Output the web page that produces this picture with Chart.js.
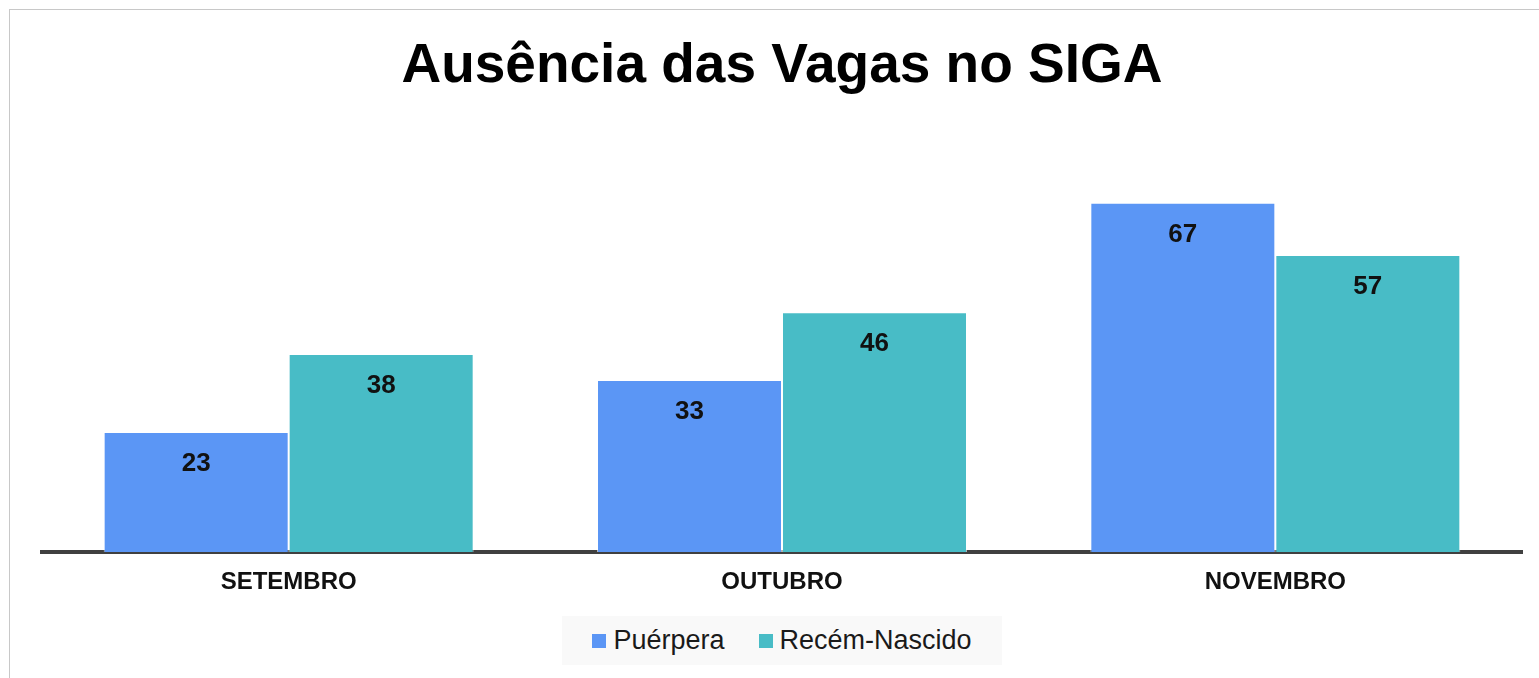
<!DOCTYPE html>
<html lang="pt-BR">
<head>
<meta charset="utf-8">
<title>Ausência das Vagas no SIGA</title>
<script src="https://cdn.jsdelivr.net/npm/chart.js@4.4.1/dist/chart.umd.min.js"></script>
<style>
    html, body { margin: 0; padding: 0; background: #fff; overflow: hidden; }
    #wrap { position: relative; width: 1539px; height: 678px; }
    #frame { position: absolute; left: 9px; top: 9px; width: 1600px; height: 700px; border: 1.5px solid #c8c8c8; box-sizing: border-box; pointer-events: none; }
    #chartBox { position: absolute; left: 0; top: 0; width: 1539px; height: 678px; }
    #legend { position: absolute; left: 562px; top: 616px; width: 440px; height: 49px; background: #f9f9f9;
              display: flex; align-items: center; justify-content: center; font-family: "Liberation Sans", Arial, sans-serif; font-size: 27px; color: #1a1a1a; }
    #legend .item { display: flex; align-items: center; }
    #legend .item + .item { margin-left: 34px; }
    #legend .box { width: 14px; height: 14px; margin-right: 7px; }
</style>
</head>
<body>
<div id="wrap">
    <div id="chartBox"><canvas id="barChart"></canvas></div>
    <div id="frame"></div>
    <div id="legend"></div>
</div>
<script>
const months = ['SETEMBRO', 'OUTUBRO', 'NOVEMBRO'];
const seriesNames = ['Puérpera', 'Recém-Nascido'];
const puerpera = [23, 33, 67];
const recemNascido = [38, 46, 57];
const seriesColors = ['#5b96f5', '#48bcc6'];

const FONT = '"Liberation Sans", Arial, sans-serif';

// value labels inside the top of each bar
const barValues = {
    id: 'barValues',
    afterDatasetsDraw(chart) {
        const ctx = chart.ctx;
        ctx.save();
        ctx.font = `bold 26px ${FONT}`;
        ctx.fillStyle = '#111';
        ctx.textAlign = 'center';
        ctx.textBaseline = 'middle';
        chart.data.datasets.forEach((ds, i) => {
            chart.getDatasetMeta(i).data.forEach((bar, j) => {
                ctx.fillText(ds.data[j], bar.x, bar.y + 32);
            });
        });
        ctx.restore();
    }
};

// legend built in html from the chart's own legend items
const htmlLegend = {
    id: 'htmlLegend',
    afterUpdate(chart) {
        const box = document.getElementById('legend');
        box.innerHTML = '';
        const items = chart.options.plugins.legend.labels.generateLabels(chart);
        items.forEach(item => {
            const li = document.createElement('div');
            li.className = 'item';
            const sw = document.createElement('span');
            sw.className = 'box';
            sw.style.background = item.fillStyle;
            const txt = document.createElement('span');
            txt.textContent = item.text;
            li.appendChild(sw);
            li.appendChild(txt);
            box.appendChild(li);
        });
    }
};

new Chart(document.getElementById('barChart'), {
    type: 'bar',
    data: {
        labels: months,
        datasets: [{
            label: seriesNames[0],
            data: puerpera,
            backgroundColor: seriesColors[0],
            borderColor: 'rgba(255,255,255,0.6)',
            borderWidth: 1
        }, {
            label: seriesNames[1],
            data: recemNascido,
            backgroundColor: seriesColors[1],
            borderColor: 'rgba(255,255,255,0.6)',
            borderWidth: 1
        }]
    },
    options: {
        responsive: true,
        maintainAspectRatio: false,
        animation: false,
        layout: {
            padding: { left: 42, right: 17, top: 0, bottom: 66 }
        },
        datasets: {
            bar: { categoryPercentage: 0.75, barPercentage: 1 }
        },
        scales: {
            x: {
                z: 1,
                grid: { display: false, drawTicks: false },
                border: { display: true, color: '#404040', width: 4 },
                ticks: {
                    padding: 15.6,
                    color: '#111',
                    font: { family: FONT, size: 24, weight: 'bold', lineHeight: 1.2 }
                }
            },
            y: {
                display: false,
                min: 0,
                max: 80
            }
        },
        plugins: {
            legend: { display: false },
            tooltip: { enabled: false },
            title: {
                display: true,
                text: 'Ausência das Vagas no SIGA',
                color: '#000',
                font: { family: FONT, size: 55, weight: 'bold', lineHeight: 1.2 },
                padding: { top: 34, bottom: 35 }
            }
        }
    },
    plugins: [barValues, htmlLegend]
});
</script>
</body>
</html>
